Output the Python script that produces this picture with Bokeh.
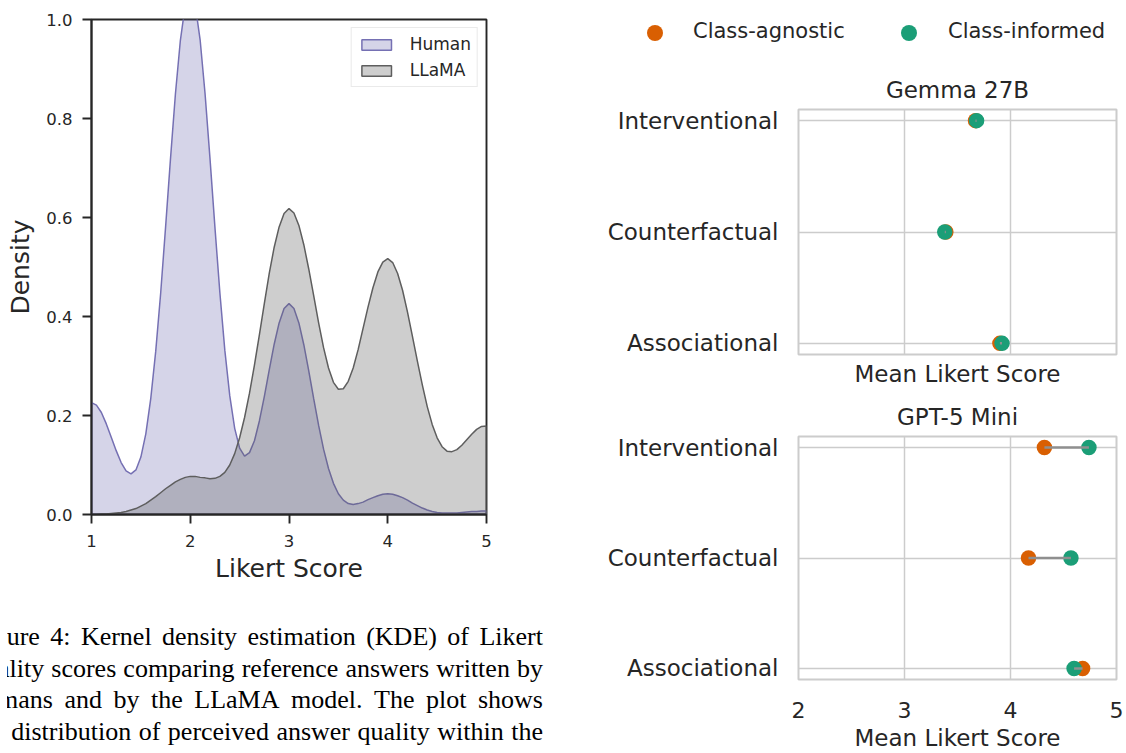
from bokeh.plotting import figure
from bokeh.layouts import row, column
from bokeh.models import (Range1d, FixedTicker, PrintfTickFormatter, Legend,
                          LegendItem, Div)
from bokeh.embed import file_html
from bokeh.resources import INLINE

# ---------------- data: KDE of Likert scores ----------------
likert_grid = [1.00, 1.05, 1.10, 1.15, 1.20, 1.25, 1.30, 1.35, 1.40, 1.45,
               1.50, 1.55, 1.60, 1.65, 1.70, 1.75, 1.80, 1.85, 1.90, 1.95,
               2.00, 2.05, 2.10, 2.15, 2.20, 2.25, 2.30, 2.35, 2.40, 2.45,
               2.50, 2.55, 2.60, 2.65, 2.70, 2.75, 2.80, 2.85, 2.90, 2.95,
               3.00, 3.05, 3.10, 3.15, 3.20, 3.25, 3.30, 3.35, 3.40, 3.45,
               3.50, 3.55, 3.60, 3.65, 3.70, 3.75, 3.80, 3.85, 3.90, 3.95,
               4.00, 4.05, 4.10, 4.15, 4.20, 4.25, 4.30, 4.35, 4.40, 4.45,
               4.50, 4.55, 4.60, 4.65, 4.70, 4.75, 4.80, 4.85, 4.90, 4.95,
               5.00]
human_density = [0.226, 0.221, 0.206, 0.183, 0.156, 0.129, 0.105, 0.088, 0.082, 0.090,
                 0.116, 0.163, 0.234, 0.329, 0.446, 0.580, 0.719, 0.850, 0.958, 1.030,
                 1.055, 1.030, 0.959, 0.850, 0.719, 0.580, 0.448, 0.332, 0.240, 0.174,
                 0.134, 0.118, 0.125, 0.149, 0.189, 0.238, 0.292, 0.344, 0.387, 0.416,
                 0.426, 0.416, 0.387, 0.343, 0.290, 0.234, 0.180, 0.132, 0.093, 0.063,
                 0.042, 0.029, 0.022, 0.020, 0.022, 0.025, 0.030, 0.034, 0.038, 0.041,
                 0.042, 0.041, 0.038, 0.034, 0.029, 0.023, 0.018, 0.013, 0.009, 0.006,
                 0.004, 0.003, 0.003, 0.003, 0.003, 0.004, 0.005, 0.006, 0.006, 0.007,
                 0.007]
llama_density = [0.000, 0.000, 0.001, 0.001, 0.002, 0.003, 0.004, 0.006, 0.009, 0.012,
                 0.017, 0.022, 0.029, 0.036, 0.044, 0.052, 0.059, 0.066, 0.071, 0.075,
                 0.077, 0.077, 0.075, 0.074, 0.072, 0.073, 0.077, 0.085, 0.100, 0.123,
                 0.155, 0.196, 0.245, 0.302, 0.363, 0.426, 0.487, 0.540, 0.581, 0.608,
                 0.618, 0.609, 0.584, 0.545, 0.496, 0.442, 0.387, 0.337, 0.296, 0.267,
                 0.253, 0.254, 0.269, 0.296, 0.333, 0.376, 0.419, 0.458, 0.490, 0.510,
                 0.517, 0.509, 0.487, 0.453, 0.409, 0.360, 0.310, 0.262, 0.218, 0.182,
                 0.155, 0.137, 0.128, 0.127, 0.131, 0.140, 0.151, 0.162, 0.172, 0.178,
                 0.179]
kde_series = ["Human", "LLaMA"]
kde_x_ticks = [1, 2, 3, 4, 5]
kde_y_ticks = [0.0, 0.2, 0.4, 0.6, 0.8, 1.0]

# ---------------- data: dumbbell charts ----------------
question_types = ["Interventional", "Counterfactual", "Associational"]
model_names = ["Gemma 27B", "GPT-5 Mini"]
condition_names = ["Class-agnostic", "Class-informed"]
gemma_agnostic = [3.67, 3.39, 3.90]
gemma_informed = [3.68, 3.38, 3.92]
gpt_agnostic = [4.32, 4.17, 4.68]
gpt_informed = [4.74, 4.57, 4.60]
score_ticks = [2, 3, 4, 5]

caption_lines = [
    "Figure 4: Kernel density estimation (KDE) of Likert",
    "quality scores comparing reference answers written by",
    "humans and by the LLaMA model. The plot shows",
    "the distribution of perceived answer quality within the",
]

FONT = "DejaVu Sans"
INK = "#262626"
HUMAN_C = "#7570b3"
LLAMA_C = "#5e5e5e"
AGN_C = "#d95f02"
INF_C = "#1b9e77"
GRID_C = "#cccccc"
COND_COLORS = [AGN_C, INF_C]

# ---------------- KDE figure ----------------
kde = figure(width=583, height=594, x_range=Range1d(1, 5), y_range=Range1d(0, 1),
             toolbar_location=None, output_backend="svg",
             min_border_left=91, min_border_right=97, min_border_top=19,
             min_border_bottom=80)
kde.grid.visible = False
kde.outline_line_color = INK
kde.outline_line_width = 1.9
kde.outline_line_alpha = 1.0

px = likert_grid + [likert_grid[-1], likert_grid[0]]
r_h = kde.patch(px, human_density + [0, 0], fill_color=HUMAN_C, fill_alpha=0.3,
                line_color=HUMAN_C, line_width=1.5)
r_l = kde.patch(px, llama_density + [0, 0], fill_color=LLAMA_C, fill_alpha=0.3,
                line_color=LLAMA_C, line_width=1.5)

for ax in (kde.xaxis[0], kde.yaxis[0]):
    ax.axis_line_color = INK
    ax.axis_line_width = 1.9
    ax.major_tick_line_color = INK
    ax.major_tick_line_width = 1.9
    ax.major_tick_out = 9
    ax.major_tick_in = 0
    ax.minor_tick_out = 0
    ax.minor_tick_in = 0
    ax.major_label_text_font = FONT
    ax.major_label_text_font_size = "16.5px"
    ax.major_label_text_color = INK
    ax.axis_label_text_font = FONT
    ax.axis_label_text_font_size = "25px"
    ax.axis_label_text_font_style = "normal"
    ax.axis_label_text_color = INK

kde.xaxis.ticker = FixedTicker(ticks=kde_x_ticks)
kde.yaxis.ticker = FixedTicker(ticks=kde_y_ticks)
kde.yaxis.formatter = PrintfTickFormatter(format="%.1f")
kde.xaxis.axis_label = "Likert Score"
kde.yaxis.axis_label = "Density"
kde.xaxis.major_label_standoff = 11
kde.yaxis.major_label_standoff = 10
kde.xaxis.axis_label_standoff = 4
kde.yaxis.axis_label_standoff = 8

kde_legend = Legend(items=[LegendItem(label=kde_series[0], renderers=[r_h]),
                           LegendItem(label=kde_series[1], renderers=[r_l])],
                    location="top_right", margin=8, padding=6, spacing=6,
                    glyph_width=37, glyph_height=13, label_standoff=15,
                    label_height=20,
                    label_text_font=FONT, label_text_font_size="17px",
                    label_text_color=INK, border_line_color="#d6d6d6",
                    border_line_width=1, background_fill_color="white",
                    background_fill_alpha=0.8)
kde.add_layout(kde_legend)

# ---------------- caption (justified lines, cropped on the left) ----------------
line_divs = []
for line in caption_lines:
    words = "".join("<span>%s</span>" % w for w in line.split())
    line_divs.append('<div style="display:flex;justify-content:space-between;'
                     'width:571px;height:31.7px;white-space:nowrap;">%s</div>' % words)
caption_html = ('<div style="position:relative;width:583px;height:159px;">'
                '<div style="position:absolute;left:7px;top:0;width:576px;height:159px;'
                'overflow:hidden;">'
                '<div style="position:absolute;left:-35px;top:27px;width:571px;'
                "font-family:'Liberation Serif';font-size:26px;line-height:31.7px;"
                'color:#000;">' + "".join(line_divs) + '</div></div></div>')
caption = Div(text=caption_html, width=583, height=159,
              styles={"overflow": "hidden", "margin": "0", "padding": "0"})

# ---------------- shared legend row above the dumbbell panels ----------------
legend_slots = [(64, 110), (318, 365)]   # (marker left px, label left px)
legend_parts = []
for (dot_left, label_left), name, color in zip(legend_slots, condition_names, COND_COLORS):
    legend_parts.append(
        '<div style="position:absolute;left:%dpx;top:24.7px;width:16px;height:16px;'
        'border-radius:50%%;background:%s;"></div>' % (dot_left, color))
    legend_parts.append(
        '<div style="position:absolute;left:%dpx;top:20.5px;line-height:21px;'
        'white-space:nowrap;">%s</div>' % (label_left, name))
legend_html = ('<div style="position:relative;width:543px;height:60px;'
               "font-family:'DejaVu Sans';font-size:21px;color:%s;\">" % INK
               + "".join(legend_parts) + '</div>')
cond_legend = Div(text=legend_html, width=543, height=60,
                  styles={"margin": "0", "padding": "0"})


def dumbbell(title, agn, inf, height, top, bottom, show_ticks):
    ypos = [len(question_types) - 1 - i for i in range(len(question_types))]
    p = figure(width=543, height=height, x_range=Range1d(2, 5),
               y_range=Range1d(-0.1, 2.1), toolbar_location=None,
               output_backend="svg", min_border_left=215, min_border_right=10,
               min_border_top=top, min_border_bottom=bottom, title=title)
    p.title.align = "center"
    p.title.text_font = FONT
    p.title.text_font_size = "23px"
    p.title.text_font_style = "normal"
    p.title.text_color = INK
    p.title.standoff = 13
    p.outline_line_color = GRID_C
    p.outline_line_width = 2
    p.xgrid.ticker = FixedTicker(ticks=score_ticks)
    p.ygrid.ticker = FixedTicker(ticks=ypos)
    p.grid.grid_line_color = GRID_C
    p.grid.grid_line_width = 1.5

    p.scatter(agn, ypos, size=15.5, fill_color=AGN_C, line_color=None)
    p.scatter(inf, ypos, size=15.5, fill_color=INF_C, line_color=None)
    p.segment(x0=agn, y0=ypos, x1=inf, y1=ypos, line_color="#8f8f8f",
              line_width=2.5)

    for ax in (p.xaxis[0], p.yaxis[0]):
        ax.axis_line_color = None
        ax.major_tick_out = 0
        ax.major_tick_in = 0
        ax.minor_tick_out = 0
        ax.minor_tick_in = 0
        ax.major_label_text_font = FONT
        ax.major_label_text_color = INK
        ax.axis_label_text_font = FONT
        ax.axis_label_text_font_size = "23px"
        ax.axis_label_text_font_style = "normal"
        ax.axis_label_text_color = INK
    p.yaxis.ticker = FixedTicker(ticks=ypos)
    p.yaxis.major_label_overrides = {y: q for y, q in zip(ypos, question_types)}
    p.yaxis.major_label_text_font_size = "23px"
    p.yaxis.major_label_standoff = 20
    p.xaxis.axis_label = "Mean Likert Score"
    if show_ticks:
        p.xaxis.ticker = FixedTicker(ticks=score_ticks)
        p.xaxis.major_label_text_font_size = "22px"
        p.xaxis.major_label_standoff = 22
        p.xaxis.axis_label_standoff = 4
    else:
        p.xaxis.ticker = FixedTicker(ticks=[])
        p.xaxis.major_label_standoff = 0
        p.xaxis.axis_label_standoff = 6
    return p


gemma = dumbbell(model_names[0], gemma_agnostic, gemma_informed, 332, 49, 38, False)
gpt = dumbbell(model_names[1], gpt_agnostic, gpt_informed, 361, 44, 72, True)

layout = row(column(kde, caption), column(cond_legend, gemma, gpt))

open("out.html", "w").write(file_html(layout, INLINE))
